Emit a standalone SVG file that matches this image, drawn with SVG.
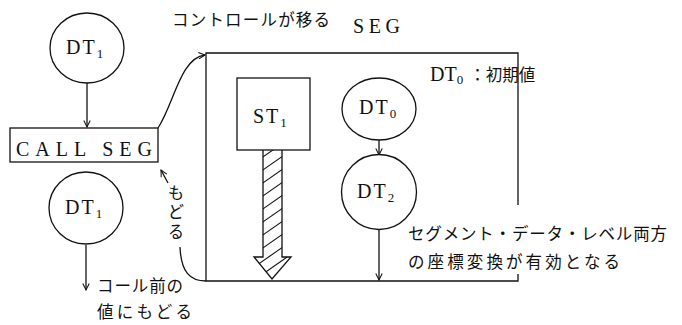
<svg xmlns="http://www.w3.org/2000/svg" width="682" height="325" viewBox="0 0 682 325">
<style>
.ln{fill:none;stroke:#111;stroke-width:1.3}
.nd{fill:#fff;stroke:#111;stroke-width:1.3}
.lat{font-family:"Liberation Serif","Times New Roman","DejaVu Serif",serif;font-size:20px;fill:#111}
.dt{letter-spacing:2px}
.sub{font-size:13px;letter-spacing:0}
.jp{font-family:"Noto Sans CJK JP",sans-serif;font-size:16.5px;fill:#111}
</style>
<defs>
<marker id="ah" viewBox="0 0 10 10" refX="9" refY="5" markerWidth="8" markerHeight="8" orient="auto" markerUnits="userSpaceOnUse">
<path d="M1,1 L9,5 L1,9" fill="none" stroke="#111" stroke-width="1.3"/>
</marker>
<clipPath id="arrClip">
<path d="M263,150 L282,150 L282,257 L291,257 L272,279 L254,257 L263,257 Z"/>
</clipPath>
</defs>

<g id="connectors">
<line class="ln" x1="87" y1="83" x2="87" y2="127" marker-end="url(#ah)"/>
<line class="ln" x1="86" y1="245" x2="86" y2="290" marker-end="url(#ah)"/>
<path class="ln" d="M158,128 C174,104 180,58 205,55" marker-end="url(#ah)"/>
<path class="ln" d="M206,281 C190,281 181,272 180,247"/>
<line class="ln" x1="168" y1="183" x2="161" y2="170" marker-end="url(#ah)"/>
<line class="ln" x1="379" y1="139" x2="379" y2="155" marker-end="url(#ah)"/>
<line class="ln" x1="379" y1="230" x2="379" y2="280" marker-end="url(#ah)"/>
</g>

<g id="seg">
<path class="ln" d="M518,205 L518,53 L206,53 L206,281 L518,281 L518,274"/>
<text class="lat" x="353" y="33" textLength="47">SEG</text>
</g>

<g id="dt1-top">
<ellipse class="nd" cx="87" cy="48" rx="37" ry="35"/>
<text class="lat dt" x="66" y="54">DT<tspan class="sub" dy="4">1</tspan></text>
</g>

<g id="callseg">
<rect class="nd" x="10" y="128" width="148" height="34"/>
<text class="lat" x="16" y="156" textLength="136" font-size="21">CALL SEG</text>
</g>

<g id="dt1-bottom">
<ellipse class="nd" cx="86" cy="208" rx="37" ry="36"/>
<text class="lat dt" x="65" y="214">DT<tspan class="sub" dy="4">1</tspan></text>
</g>

<g id="st1">
<rect class="nd" x="237" y="78" width="73" height="72"/>
<text class="lat dt" x="253" y="123">ST<tspan class="sub" dy="4">1</tspan></text>
</g>

<g id="hatched-arrow">
<g clip-path="url(#arrClip)" stroke="#111" stroke-width="1.1">
<line x1="250" y1="166" x2="300" y2="131"/>
<line x1="250" y1="179" x2="300" y2="144"/>
<line x1="250" y1="192" x2="300" y2="157"/>
<line x1="250" y1="205" x2="300" y2="170"/>
<line x1="250" y1="218" x2="300" y2="183"/>
<line x1="250" y1="231" x2="300" y2="196"/>
<line x1="250" y1="244" x2="300" y2="209"/>
<line x1="250" y1="257" x2="300" y2="222"/>
<line x1="250" y1="270" x2="300" y2="235"/>
<line x1="250" y1="283" x2="300" y2="248"/>
<line x1="250" y1="296" x2="300" y2="261"/>
</g>
<path class="ln" d="M263,150 L263,257 L254,257 L272,279 L291,257 L282,257 L282,150"/>
</g>

<g id="dt0">
<ellipse class="nd" cx="379" cy="109" rx="37" ry="31"/>
<text class="lat dt" x="359" y="114">DT<tspan class="sub" dy="4">0</tspan></text>
</g>

<g id="dt2">
<ellipse class="nd" cx="379" cy="192" rx="37.5" ry="37.5"/>
<text class="lat dt" x="357" y="198">DT<tspan class="sub" dy="4">2</tspan></text>
</g>

<g id="labels">
<text class="jp" x="172" y="26" textLength="158">コントロールが移る</text>
<text class="lat" x="430" y="81" font-size="19">DT<tspan class="sub" dy="3">0</tspan><tspan class="jp" dy="-3" dx="6">：初期値</tspan></text>
<text class="jp" x="408" y="240" textLength="259">セグメント・データ・レベル両方</text>
<text class="jp" x="408" y="268" textLength="212">の座標変換が有効となる</text>
<text class="jp" x="97" y="292" textLength="86">コール前の</text>
<text class="jp" x="97" y="318" textLength="95">値にもどる</text>
<text class="jp" x="176" y="184" writing-mode="vertical-rl" letter-spacing="3">もどる</text>
</g>
</svg>
